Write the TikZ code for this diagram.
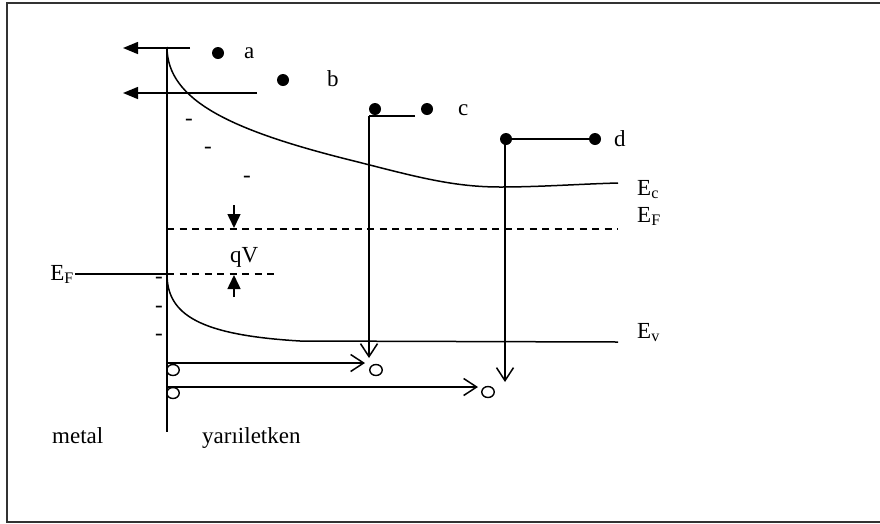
\documentclass[tikz,border=0pt]{standalone}
\usepackage{fontspec}
\setmainfont{Liberation Serif}
\usetikzlibrary{arrows.meta,shapes.geometric}

\tikzset{
  band/.style={line width=1.5pt},
  level/.style={line width=1.5pt, dash pattern=on 7pt off 5.5pt},
  electron/.style={circle, fill, inner sep=0pt, minimum size=12pt},
  hole/.style={ellipse, draw, line width=1.4pt, inner sep=0pt, minimum width=12.5pt, minimum height=11pt},
  lbl/.style={font=\fontsize{23}{27}\selectfont, inner sep=0pt, anchor=base west},
  charge/.style={font=\fontsize{23}{27}\selectfont, inner sep=0pt, anchor=base},
  emit/.style={band, -{Triangle[length=15pt,width=12pt]}},
  qarrow/.style={band, -{Triangle[length=14pt,width=13pt]}},
  fall/.style={band, -{Straight Barb[length=13pt,width=17pt]}},
}

\begin{document}
\begin{tikzpicture}[x=1pt, y=-1pt]
  \useasboundingbox (0,0) rectangle (880,523);
  % frame
  \draw[black!80, line width=2pt] (882,2.5) -- (7,2.5) -- (7,522) -- (882,522);

  % interface between metal and semiconductor
  \coordinate (itop) at (167,47);
  \coordinate (ibot) at (167,432);
  \draw[band] (itop) -- (ibot);

  % conduction band edge
  \coordinate (cb0) at (167,47);
  \coordinate (cb1) at (350,160);
  \coordinate (cb2) at (500,187);
  \coordinate (cb3) at (618,183);
  \draw[band] (cb0) .. controls (167,100) and (230,130) .. (cb1)
    .. controls (410,175) and (450,187) .. (cb2)
    .. controls (540,187) and (580,184) .. (cb3);
  % valence band edge
  \coordinate (vb0) at (167,274);
  \coordinate (vb1) at (300,341);
  \coordinate (vb2) at (618,342);
  \draw[band] (vb0) .. controls (167,315) and (200,335) .. (vb1) -- (vb2);

  % Fermi levels
  \coordinate (fm) at (75,274);
  \coordinate (fi) at (167,274);
  \coordinate (fl) at (278,274);
  \coordinate (fs) at (167,229);
  \coordinate (fr) at (618,229);
  \draw[band] (fm) -- (fi);
  \draw[level] (fi) -- (fl);
  \draw[level] (fs) -- (fr);

  % qV arrows
  \coordinate (qa) at (234,205);
  \coordinate (qb) at (234,228);
  \coordinate (qc) at (234,297);
  \coordinate (qd) at (234,275);
  \draw[qarrow] (qa) -- (qb);
  \draw[qarrow] (qc) -- (qd);
  \node[lbl] (qv) at (230,262) {qV};

  % electrons a and b escaping to the metal
  \coordinate (ta) at (190,48);
  \coordinate (ha) at (123,48);
  \coordinate (tb) at (257,93);
  \coordinate (hb) at (123,93);
  \draw[emit] (ta) -- (ha);
  \draw[emit] (tb) -- (hb);
  \node[electron] (ea) at (218,53) {};
  \node[electron] (eb) at (283,80) {};
  \node[lbl] (la) at (244,58) {a};
  \node[lbl] (lb) at (327,86) {b};

  % electrons c and d recombining
  \node[electron] (ec1) at (375,109) {};
  \node[electron] (ec2) at (427,109) {};
  \coordinate (cr) at (415,116);
  \coordinate (cc) at (369,116);
  \coordinate (cb) at (369,358);
  \draw[band] (cr) -- (cc);
  \draw[fall] (cc) -- (cb);
  \node[lbl] (lc) at (458,115) {c};

  \node[electron] (ed1) at (506,139) {};
  \node[electron] (ed2) at (595,139) {};
  \coordinate (dc) at (505,139);
  \coordinate (db) at (505,382);
  \draw[band] (ed1) -- (ed2);
  \draw[fall] (dc) -- (db);
  \node[lbl] (ld) at (614,146) {d};

  % holes
  \node[hole] (h1) at (173,370) {};
  \node[hole] (h2) at (173,393) {};
  \node[hole] (h3) at (376,370) {};
  \node[hole] (h4) at (488,392) {};
  \coordinate (ha1) at (167,363);
  \coordinate (hb1) at (365,363);
  \coordinate (ha2) at (167,387);
  \coordinate (hb2) at (478,387);
  \draw[fall] (ha1) -- (hb1);
  \draw[fall] (ha2) -- (hb2);

  % depletion charges
  \node[charge] at (189,125) {-};
  \node[charge] at (208,153) {-};
  \node[charge] at (247,182) {-};
  \node[charge] at (159,283) {-};
  \node[charge] at (159,312) {-};
  \node[charge] at (159,340) {-};

  % labels
  \node[lbl] (lec) at (637,195) {E\textsubscript{c}};
  \node[lbl] (lef) at (637,222) {E\textsubscript{F}};
  \node[lbl] (lev) at (637,338) {E\textsubscript{v}};
  \node[lbl, anchor=base east] (lfm) at (74,280) {E\textsubscript{F}};
  \node[lbl] (lmetal) at (52,443) {metal};
  \node[lbl] (lsemi) at (202,443) {yarıiletken};
\end{tikzpicture}
\end{document}
